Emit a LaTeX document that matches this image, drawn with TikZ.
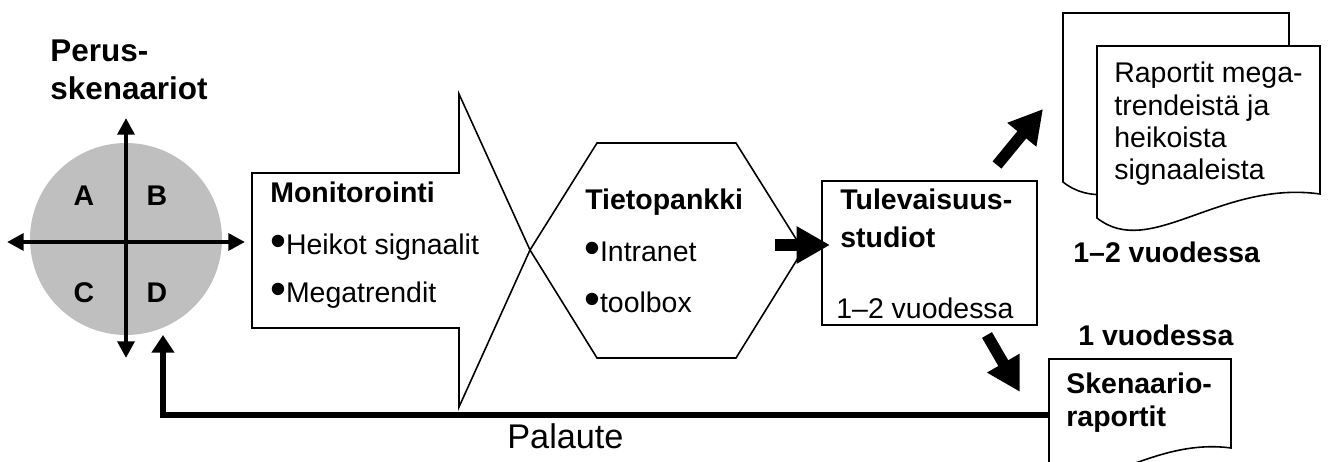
\documentclass[tikz,border=0pt]{standalone}
\usepackage{fontspec}
\setmainfont{Liberation Sans}
\usepackage{tikz}
\usetikzlibrary{arrows.meta,calc}
\tikzstyle{line} = [draw, line width=0.9pt]
\tikzstyle{doc} = [draw, line width=0.9pt, fill=white]
\tikzstyle{axis} = [draw, line width=2.4pt, {Triangle[length=9.5pt,width=9.5pt]}-{Triangle[length=9.5pt,width=9.5pt]}]
\tikzstyle{fat} = [draw, line width=6.5pt, -{Triangle[length=19pt,width=20pt]}]
\tikzstyle{back} = [draw, line width=3.6pt, -{Triangle[length=10pt,width=12.5pt]}]
\tikzstyle{txt} = [inner sep=0pt, anchor=base west, font=\fontsize{16.2}{19}\selectfont]
\tikzstyle{btxt} = [inner sep=0pt, anchor=base west, font=\fontsize{16.2}{19}\selectfont\bfseries]
\newcommand{\blt}{\raisebox{-.06em}{\scalebox{1.6}{\textbullet}}\hspace{-.01em}}

\begin{document}
\begin{tikzpicture}[x=0.02cm, y=-0.02cm]
      \useasboundingbox (0,0) rectangle (1331,462);

      % skenaariot circle
      \node[circle, fill=black!25, minimum size=3.84cm, inner sep=0pt] (scen) at (126,239) {};
      \coordinate (axN) at (126,118);
      \coordinate (axS) at (126,358);
      \coordinate (axW) at (7,242);
      \coordinate (axE) at (245,242);
      \draw[axis] (axS) -- (axN);
      \draw[axis] (axW) -- (axE);
      \node[btxt, anchor=center] (qa) at (84,196) {A};
      \node[btxt, anchor=center] (qb) at (157,196) {B};
      \node[btxt, anchor=center] (qc) at (84,293) {C};
      \node[btxt, anchor=center] (qd) at (157,293) {D};
      \node[btxt, font=\fontsize{17.9}{21}\selectfont\bfseries] (perus1) at (50,62) {Perus-};
      \node[btxt, font=\fontsize{17.9}{21}\selectfont\bfseries] (perus2) at (50,100) {skenaariot};

      % monitorointi arrow and tietopankki hexagon
      \draw[line] (252,173) -- (459,173) -- (459,94) -- (530,250) -- (459,407) -- (459,328) -- (252,328) -- cycle;
      \draw[line] (530,250) -- (597,143) -- (736,143) -- (803,250) -- (736,358) -- (597,358) -- cycle;
      \node[btxt] (mon) at (270,203) {Monitorointi};
      \node[txt] (mon1) at (270,255) {\blt Heikot signaalit};
      \node[txt] (mon2) at (270,303) {\blt Megatrendit};
      \node[btxt] (tiet) at (585,210) {Tietopankki};
      \node[txt] (tiet1) at (584,262) {\blt Intranet};
      \node[txt] (tiet2) at (584,313) {\blt toolbox};

      % tulevaisuusstudiot
      \node[draw, line width=0.9pt, minimum width=4.3cm, minimum height=2.88cm, inner sep=0pt] (tule) at (929.5,253) {};
      \node[btxt] (tule1) at (840,210) {Tulevaisuus-};
      \node[btxt] (tule2) at (840,248) {studiot};
      \node[txt] (tule3) at (836,318) {1–2 vuodessa};

      % raportit
      \draw[doc] (1063,13) -- (1289,13) -- (1289,160) .. controls (1189,147) and (1116,224) .. (1063,182) -- cycle;
      \draw[doc] (1097,46) -- (1320,46) -- (1320,194) .. controls (1220,180) and (1150,260) .. (1097,218) -- cycle;
      \node[txt] (rap1) at (1114,83) {Raportit mega-};
      \node[txt] (rap2) at (1114,116) {trendeistä ja};
      \node[txt] (rap3) at (1114,148) {heikoista};
      \node[txt] (rap4) at (1114,180) {signaaleista};
      \node[btxt] (rapt) at (1073,263) {1–2 vuodessa};

      % skenaarioraportit
      \draw[doc] (1049,359) -- (1231,359) -- (1231,448) .. controls (1149,437) and (1092,502) .. (1049,468) -- cycle;
      \node[btxt] (skent) at (1078,345) {1 vuodessa};
      \node[btxt] (sken1) at (1066,393) {Skenaario-};
      \node[btxt] (sken2) at (1066,426) {raportit};

      % arrows
      \coordinate (hexE) at (775,245);
      \coordinate (tuleW) at (830,245);
      \coordinate (tuleNE) at (997,165);
      \coordinate (rapSW) at (1043,109);
      \coordinate (tuleSE) at (987,335);
      \coordinate (skenNW) at (1020,392);
      \coordinate (skenW) at (1049,415);
      \coordinate (scenS) at (163,335);
      \draw[fat] (hexE) -- (tuleW);
      \draw[fat] (tuleNE) -- (rapSW);
      \draw[fat] (tuleSE) -- (skenNW);
      \draw[back] (skenW) -| (scenS);
      \node[txt, font=\fontsize{19.5}{23}\selectfont] (pal) at (507,448) {Palaute};
    \end{tikzpicture}
\end{document}
